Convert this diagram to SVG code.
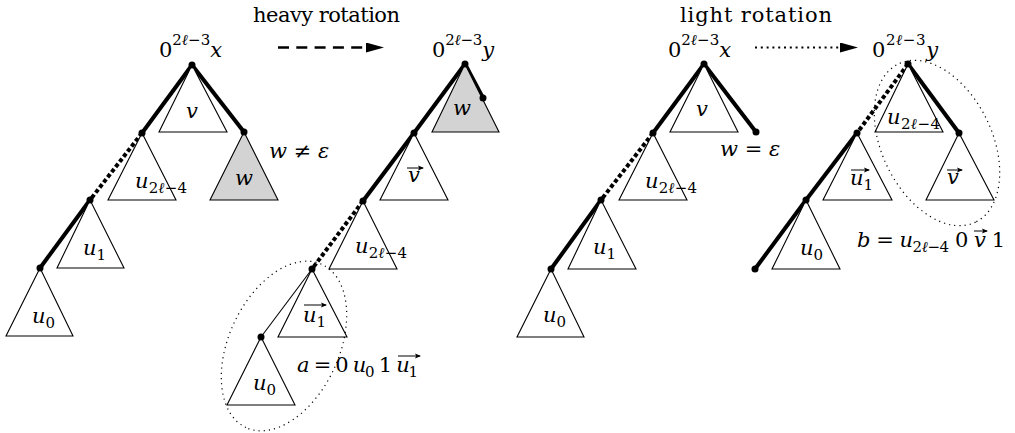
<svg xmlns="http://www.w3.org/2000/svg" width="1015" height="433" viewBox="0 0 1015 433">
<style>
text{font-family:"DejaVu Serif",serif;font-size:21px;fill:#000}
.i{font-style:italic}
.s{font-size:15px}
.tri{fill:#fff;stroke:#000;stroke-width:1.1}
.gray{fill:#d3d3d3}
.thick{stroke:#000;stroke-width:4;fill:none;stroke-linecap:butt}
.dash{stroke-dasharray:4 2.5}
.thin{stroke:#000;stroke-width:1.1;fill:none}
.dot{fill:#000}
.ell{fill:none;stroke:#000;stroke-width:1.2;stroke-dasharray:1.2 4}
.vec{stroke:#000;stroke-width:1;fill:none}
</style>
<defs>
<marker id="ah" markerWidth="18" markerHeight="10" refX="0" refY="5" orient="auto" markerUnits="userSpaceOnUse">
<path d="M0,0 L18,5 L0,10 Z" fill="#000"/>
</marker>
<marker id="va" markerWidth="6" markerHeight="6" refX="5" refY="3" orient="auto" markerUnits="userSpaceOnUse">
<path d="M0,0.5 L6,3 L0,5.5 L1.2,3 Z" fill="#000"/>
</marker>
</defs>

<g id="labels-top">
<text x="253" y="22" textLength="147" lengthAdjust="spacing">heavy rotation</text>
<text x="680" y="22" textLength="152" lengthAdjust="spacing">light rotation</text>
</g>

<g id="connectors">
<line x1="278" y1="47.5" x2="366" y2="47.5" stroke="#000" stroke-width="2.5" stroke-dasharray="11 7.3" marker-end="url(#ah)"/>
<line x1="755" y1="47.5" x2="840" y2="47.5" stroke="#000" stroke-width="2.2" stroke-dasharray="2 3.8" marker-end="url(#ah)"/>
<line class="thick" x1="192" y1="65" x2="142" y2="133"/>
<line class="thick" x1="192" y1="65" x2="244" y2="132"/>
<line class="thick dash" x1="142" y1="133" x2="90" y2="200"/>
<line class="thick" x1="90" y1="200" x2="40" y2="268"/>
<line class="thick" x1="465" y1="64" x2="483" y2="98"/>
<line class="thick" x1="465" y1="64" x2="414" y2="133"/>
<line class="thick" x1="414" y1="133" x2="363" y2="201"/>
<line class="thick dash" x1="363" y1="201" x2="312" y2="269"/>
<line class="thin" x1="312" y1="269" x2="261" y2="337"/>
<line class="thick" x1="704" y1="64" x2="653" y2="133"/>
<line class="thick" x1="704" y1="64" x2="756" y2="132"/>
<line class="thick dash" x1="653" y1="133" x2="601" y2="200"/>
<line class="thick" x1="601" y1="200" x2="551" y2="269"/>
<line class="thick dash" x1="908" y1="64" x2="857" y2="133"/>
<line class="thick" x1="908" y1="64" x2="959" y2="133"/>
<line class="thick" x1="857" y1="133" x2="806" y2="200"/>
<line class="thick" x1="806" y1="200" x2="755" y2="269"/>
</g>

<g id="t1-v"><path class="tri" d="M192,65 L159,132 L227,132 Z"/><text class="i" x="192" y="118" text-anchor="middle">v</text></g>
<g id="t1-u2l4"><path class="tri" d="M142,133 L108,200 L176,200 Z"/><text x="135" y="188" textLength="52" lengthAdjust="spacing"><tspan class="i">u</tspan><tspan class="s" dy="5">2<tspan class="i">ℓ</tspan>−4</tspan></text></g>
<g id="t1-w"><path class="tri gray" d="M244,132 L210,200 L278,200 Z"/><text class="i" x="244" y="185" text-anchor="middle">w</text></g>
<g id="t1-u1"><path class="tri" d="M90,200 L57,268 L124,268 Z"/><text x="83" y="255"><tspan class="i">u</tspan><tspan class="s" dy="5">1</tspan></text></g>
<g id="t1-u0"><path class="tri" d="M40,268 L6,336 L73,336 Z"/><text x="32" y="323"><tspan class="i">u</tspan><tspan class="s" dy="5">0</tspan></text></g>
<g id="t1-root"><circle class="dot" cx="192" cy="65" r="3.5"/><text x="159" y="57" textLength="63" lengthAdjust="spacing">0<tspan class="s" dy="-12">2<tspan class="i">ℓ</tspan>−3</tspan><tspan class="i" dy="12">x</tspan></text></g>
<g id="t1-n1"><circle class="dot" cx="142" cy="133" r="3.5"/></g>
<g id="t1-n2"><circle class="dot" cx="244" cy="132" r="3.5"/><text x="269" y="158"><tspan class="i">w</tspan> ≠ <tspan class="i">ε</tspan></text></g>
<g id="t1-n3"><circle class="dot" cx="90" cy="200" r="3.5"/></g>
<g id="t1-n4"><circle class="dot" cx="40" cy="268" r="3.5"/></g>

<g id="t2-w"><path class="tri gray" d="M465,64 L432,132 L499,132 Z"/><text class="i" x="462" y="115" text-anchor="middle">w</text></g>
<g id="t2-v"><path class="tri" d="M414,133 L380,200 L448,200 Z"/><text class="i" x="414" y="182" text-anchor="middle">v</text><line class="vec" x1="407" y1="168" x2="423" y2="168" marker-end="url(#va)"/></g>
<g id="t2-u2l4"><path class="tri" d="M363,201 L329,269 L397,269 Z"/><text x="355" y="253" textLength="52" lengthAdjust="spacing"><tspan class="i">u</tspan><tspan class="s" dy="5">2<tspan class="i">ℓ</tspan>−4</tspan></text></g>
<g id="t2-u1"><path class="tri" d="M312,269 L278,337 L347,337 Z"/><text x="303" y="322"><tspan class="i">u</tspan><tspan class="s" dy="5">1</tspan></text><line class="vec" x1="304" y1="305" x2="326" y2="305" marker-end="url(#va)"/></g>
<g id="t2-u0"><path class="tri" d="M261,337 L227,405 L295,405 Z"/><text x="253" y="390"><tspan class="i">u</tspan><tspan class="s" dy="5">0</tspan></text></g>
<g id="t2-root"><circle class="dot" cx="465" cy="64" r="3.5"/><text x="432" y="57" textLength="62" lengthAdjust="spacing">0<tspan class="s" dy="-12">2<tspan class="i">ℓ</tspan>−3</tspan><tspan class="i" dy="12">y</tspan></text></g>
<g id="t2-n1"><circle class="dot" cx="483" cy="98" r="3.5"/></g>
<g id="t2-n2"><circle class="dot" cx="414" cy="133" r="3.5"/></g>
<g id="t2-n3"><circle class="dot" cx="363" cy="201" r="3.5"/></g>
<g id="t2-n4"><circle class="dot" cx="312" cy="269" r="3.5"/></g>
<g id="t2-n5"><circle class="dot" cx="261" cy="337" r="3.5"/></g>
<g id="t2-a"><ellipse class="ell" cx="0" cy="0" rx="90" ry="55" transform="translate(284,346) rotate(115)"/><text x="297" y="372" textLength="121" lengthAdjust="spacing"><tspan class="i">a</tspan> = 0 <tspan class="i">u</tspan><tspan class="s" dy="5">0</tspan><tspan dy="-5"> 1 </tspan><tspan class="i">u</tspan><tspan class="s" dy="5">1</tspan></text><line class="vec" x1="398" y1="356" x2="420" y2="356" marker-end="url(#va)"/></g>

<g id="t3-v"><path class="tri" d="M704,64 L670,132 L738,132 Z"/><text class="i" x="702" y="116" text-anchor="middle">v</text></g>
<g id="t3-u2l4"><path class="tri" d="M653,133 L619,200 L687,200 Z"/><text x="645" y="188" textLength="52" lengthAdjust="spacing"><tspan class="i">u</tspan><tspan class="s" dy="5">2<tspan class="i">ℓ</tspan>−4</tspan></text></g>
<g id="t3-u1"><path class="tri" d="M601,200 L568,269 L636,269 Z"/><text x="593" y="254"><tspan class="i">u</tspan><tspan class="s" dy="5">1</tspan></text></g>
<g id="t3-u0"><path class="tri" d="M551,269 L517,337 L584,337 Z"/><text x="543" y="322"><tspan class="i">u</tspan><tspan class="s" dy="5">0</tspan></text></g>
<g id="t3-root"><circle class="dot" cx="704" cy="64" r="3.5"/><text x="668" y="57" textLength="63" lengthAdjust="spacing">0<tspan class="s" dy="-12">2<tspan class="i">ℓ</tspan>−3</tspan><tspan class="i" dy="12">x</tspan></text></g>
<g id="t3-n1"><circle class="dot" cx="653" cy="133" r="3.5"/></g>
<g id="t3-n2"><circle class="dot" cx="756" cy="132" r="3.5"/><text x="720" y="156"><tspan class="i">w</tspan> = <tspan class="i">ε</tspan></text></g>
<g id="t3-n3"><circle class="dot" cx="601" cy="200" r="3.5"/></g>
<g id="t3-n4"><circle class="dot" cx="551" cy="269" r="3.5"/></g>

<g id="t4-u2l4"><path class="tri" d="M908,64 L875,132 L943,132 Z"/><text x="887" y="124" textLength="53" lengthAdjust="spacing"><tspan class="i">u</tspan><tspan class="s" dy="5">2<tspan class="i">ℓ</tspan>−4</tspan></text></g>
<g id="t4-v"><path class="tri" d="M959,133 L926,200 L994,200 Z"/><text class="i" x="953" y="184" text-anchor="middle">v</text><line class="vec" x1="947" y1="170" x2="962" y2="170" marker-end="url(#va)"/></g>
<g id="t4-u1"><path class="tri" d="M857,133 L823,200 L892,200 Z"/><text x="850" y="185"><tspan class="i">u</tspan><tspan class="s" dy="5">1</tspan></text><line class="vec" x1="851" y1="170" x2="869" y2="170" marker-end="url(#va)"/></g>
<g id="t4-u0"><path class="tri" d="M806,200 L772,269 L840,269 Z"/><text x="800" y="255"><tspan class="i">u</tspan><tspan class="s" dy="5">0</tspan></text></g>
<g id="t4-root"><circle class="dot" cx="908" cy="64" r="3.5"/><text x="872" y="57" textLength="66" lengthAdjust="spacing">0<tspan class="s" dy="-12">2<tspan class="i">ℓ</tspan>−3</tspan><tspan class="i" dy="12">y</tspan></text></g>
<g id="t4-n1"><circle class="dot" cx="857" cy="133" r="3.5"/></g>
<g id="t4-n2"><circle class="dot" cx="959" cy="133" r="3.5"/></g>
<g id="t4-n3"><circle class="dot" cx="806" cy="200" r="3.5"/></g>
<g id="t4-n4"><circle class="dot" cx="755" cy="269" r="3.5"/></g>
<g id="t4-b"><ellipse class="ell" cx="0" cy="0" rx="88" ry="55" transform="translate(937,143) rotate(64)"/><text x="857" y="247" textLength="148" lengthAdjust="spacing"><tspan class="i">b</tspan> = <tspan class="i">u</tspan><tspan class="s" dy="5">2<tspan class="i">ℓ</tspan>−4</tspan><tspan dy="-5"> 0 </tspan><tspan class="i">v</tspan> 1</text><line class="vec" x1="974" y1="231" x2="987" y2="231" marker-end="url(#va)"/></g>
</svg>
